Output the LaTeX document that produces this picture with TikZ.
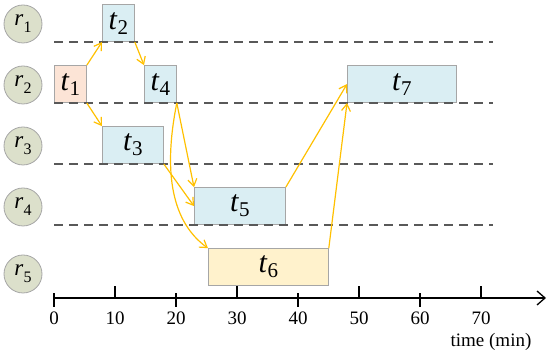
\documentclass[tikz,border=0pt]{standalone}
\usepackage{fontspec}
\setmainfont{LiberationSerif}[Extension=.ttf, UprightFont=*-Regular, ItalicFont=*-Italic, BoldFont=*-Bold]
\usetikzlibrary{arrows.meta}
\definecolor{gcircle}{HTML}{DCE0CB}
\definecolor{gborder}{HTML}{A6A6A6}
\definecolor{gblue}{HTML}{DAEEF3}
\definecolor{gpeach}{HTML}{FCE4D6}
\definecolor{gyellow}{HTML}{FFF2CC}
\definecolor{garrow}{HTML}{FFC000}
\definecolor{gdash}{HTML}{595959}
\newcommand{\tasklab}[1]{\textit{t}\raisebox{-5pt}{\fontsize{21}{21}\selectfont #1}}
\newcommand{\reslab}[1]{\textit{r}\raisebox{-7pt}{\fontsize{16}{16}\selectfont #1}}
\tikzset{
  gtask/.style={
    draw=gborder, fill=gblue, line width=0.8pt, anchor=south west,
    minimum height=37pt, inner sep=0pt, font=\fontsize{30}{30}\selectfont},
  gres/.style={
    circle, draw=gborder, fill=gcircle, minimum size=38pt, inner sep=0pt,
    line width=0.8pt, font=\fontsize{23}{23}\selectfont},
  glane/.style={draw=gdash, line width=1.3pt, dash pattern=on 9pt off 6pt},
  gdep/.style={-{Straight Barb[length=7pt, width=9pt]}, draw=garrow, line width=1.2pt},
  gaxis/.style={draw=black, line width=1.3pt},
  gnum/.style={font=\fontsize{19}{19}\selectfont},
}
\begin{document}
\begin{tikzpicture}[x=1pt, y=1pt]
\useasboundingbox (0, 0) rectangle (550, 358);

% Resources.
\foreach \i/\y in {1/334, 2/273, 3/212, 4/151, 5/84} {
  \node[gres] (r\i) at (23, \y) {\reslab{\i}};
}

% Tasks on their resource rows.
\node[gtask, fill=gpeach, minimum width=32pt] (t1) at (54, 255) {\tasklab{1}};
\node[gtask, minimum width=32pt] (t2) at (102, 316) {\tasklab{2}};
\node[gtask, minimum width=61pt] (t3) at (102, 194) {\tasklab{3}};
\node[gtask, minimum width=32pt] (t4) at (144, 255) {\tasklab{4}};
\node[gtask, minimum width=91pt] (t5) at (194, 133) {\tasklab{5}};
\node[gtask, fill=gyellow, minimum width=120pt] (t6) at (208, 72) {\tasklab{6}};
\node[gtask, minimum width=109pt] (t7) at (347, 255) {\tasklab{7}};

% Row separators.
\foreach \y in {316, 255, 194, 133} {
  \draw[glane] (54, \y) -- (493, \y);
}

% Time axis.
\draw[gaxis, -{Straight Barb[length=8pt, width=14pt]}] (54, 60) -- (546, 60);
\foreach \k [evaluate=\k as \lab using int(10*\k)] in {0,...,7} {
  \ifodd\k
    \draw[gaxis] ({54 + 61*\k}, 60) -- ({54 + 61*\k}, 72);
  \else
    \draw[gaxis] ({54 + 61*\k}, 51) -- ({54 + 61*\k}, 65);
  \fi
  \node[gnum] (n\k) at ({54 + 61*\k}, 40) {\lab};
}
\node[gnum] (tlabel) at (491, 16) {time (min)};

% Precedence.
\draw[gdep] (t1.north east) -- (t2.south west);
\draw[gdep] (t1.south east) -- (t3.north west);
\draw[gdep] (t2.south east) -- (t4.north west);
\draw[gdep] (t4.south east) -- (t5.north west);
\draw[gdep] (t4.south east) .. controls +(-14, -70) and +(-36, 26) .. (t6.north west);
\draw[gdep] (t3.south east) -- (t5.west);
\draw[gdep] (t5.north east) -- (t7.west);
\draw[gdep] (t6.north east) -- (t7.south west);

\end{tikzpicture}
\end{document}
